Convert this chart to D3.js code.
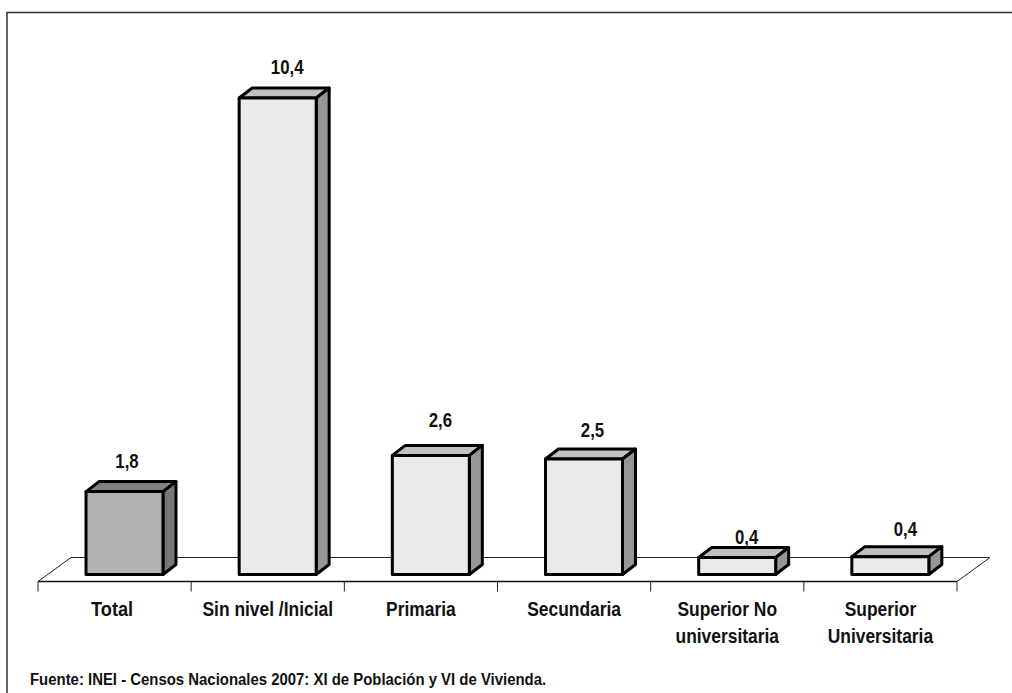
<!DOCTYPE html>
<html><head><meta charset="utf-8">
<style>html,body{margin:0;padding:0;background:#fff}svg{display:block}text{font-family:"Liberation Sans",Arial,sans-serif}</style>
<script src="https://cdn.jsdelivr.net/npm/d3@7"></script></head><body>
<svg id="c" width="1012" height="693"></svg>
<script>
const categories=["Total","Sin nivel /Inicial","Primaria","Secundaria","Superior No|universitaria","Superior|Universitaria"];
const values=[1.81,10.4,2.6,2.52,0.37,0.39];
const source="Fuente: INEI - Censos Nacionales 2007: XI de Población y VI de Vivienda.";

const labelNudge=[[2.5,-24],[9.5,-24],[9.5,-28],[8.5,-22],[9.5,-14],[15,-21]];
const svg=d3.select("#c");
svg.append("path").attr("d","M7,693V12.5H1012").attr("fill","none").attr("stroke","#333").attr("stroke-width",1.5);
const x=d3.scaleBand().domain(categories).range([38,957]);
const y=d3.scaleLinear().domain([0,10.4]).range([574.5,98]);
const dx=13,dy=10,bw=77,floorDx=33,floorDy=24,front=581.5;
svg.append("path").attr("d",`M${x.range()[0]},${front}L${x.range()[0]+floorDx},${front-floorDy}H${x.range()[1]+floorDx}L${x.range()[1]},${front}`).attr("fill","#fff").attr("stroke","#222").attr("stroke-width",1);
svg.append("line").attr("x1",x.range()[0]).attr("x2",x.range()[1]).attr("y1",front).attr("y2",front).attr("stroke","#111").attr("stroke-width",1.3);
const g=svg.append("g");
[...categories.map(c=>x(c)),x.range()[1]].forEach(t=>g.append("line").attr("x1",t).attr("x2",t).attr("y1",front).attr("y2",front+10).attr("stroke","#222"));
const fmt=d3.format(".1f");
function squeezed(px,py,size,sx,str){
  return svg.append("text").attr("transform",`translate(${px},${py}) scale(${sx},1)`).attr("font-size",size).attr("font-weight","bold").attr("fill","#111").text(str);
}
categories.forEach((c,i)=>{
  const x0=x(c)+48,x1=x0+bw,t=y(values[i]),b=y(0);
  const dark=i===0;
  const bar=svg.append("g").attr("stroke","#000").attr("stroke-width",3).attr("stroke-linejoin","round");
  bar.append("path").attr("d",`M${x0},${t}L${x0+dx},${t-dy}H${x1+dx}L${x1},${t}Z`).attr("fill",dark?"#808080":"#c0c0c0");
  bar.append("path").attr("d",`M${x1},${t}L${x1+dx},${t-dy}V${b-dy}L${x1},${b}Z`).attr("fill",dark?"#777":"#969696");
  bar.append("rect").attr("x",x0).attr("y",t).attr("width",bw).attr("height",b-t).attr("fill",dark?"#b2b2b2":"#eaeaea");
  squeezed(x0+bw/2+labelNudge[i][0],t+labelNudge[i][1],20,0.84,fmt(values[i]).replace(".",",")).attr("text-anchor","middle");
  c.split("|").forEach((l,j)=>squeezed(x(c)+x.bandwidth()/2-(i===0?2.5:0),616+j*27,20,i===0?0.91:0.87,l).attr("text-anchor","middle"));
});
squeezed(30,685,17,0.878,source);
</script></body></html>
